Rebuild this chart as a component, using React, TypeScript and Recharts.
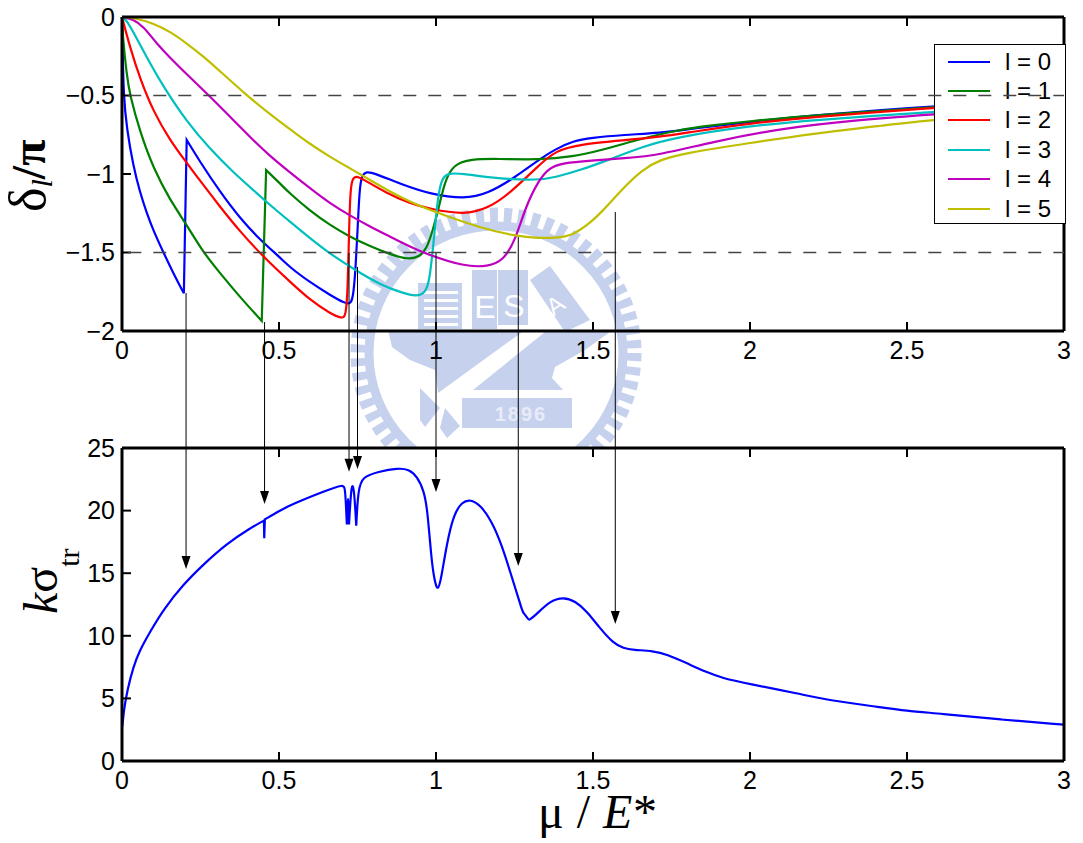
import { Line, LineChart, ReferenceDot, ReferenceLine, XAxis, YAxis } from 'recharts';

const xTicks = [0, 0.5, 1, 1.5, 2, 2.5, 3];
const phaseTicks = [-2, -1.5, -1, -0.5, 0];
const sigmaTicks = [0, 5, 10, 15, 20, 25];
const guideLevels = [-0.5, -1.5];

// curves are drawn as b-splines, so a value listed three times is a sharp corner (the jumps)
const l0X = [0, 0.002, 0.005, 0.015, 0.036, 0.057, 0.079, 0.1, 0.132, 0.163, 0.197, 0.197, 0.197, 0.206, 0.206, 0.206, 0.248, 0.312, 0.376, 0.44, 0.503, 0.535, 0.599, 0.662, 0.71, 0.729, 0.737, 0.744, 0.75, 0.756, 0.763, 0.779, 0.8, 0.896, 0.981, 1.09, 1.166, 1.253, 1.327, 1.382, 1.437, 1.492, 1.6, 1.71, 1.82, 1.99, 2.21, 2.43, 2.58, 2.8, 3];
const l0Y = [0, -0.2, -0.5, -0.71, -0.95, -1.115, -1.25, -1.36, -1.5, -1.63, -1.76, -1.76, -1.76, -0.783, -0.783, -0.783, -0.921, -1.113, -1.282, -1.42, -1.531, -1.595, -1.69, -1.77, -1.824, -1.83, -1.77, -1.6, -1.367, -1.11, -1.007, -0.985, -0.992, -1.07, -1.127, -1.16, -1.125, -1.02, -0.91, -0.84, -0.79, -0.77, -0.75, -0.74, -0.71, -0.67, -0.625, -0.59, -0.57, -0.54, -0.52];

const l1X = [0, 0.002, 0.015, 0.025, 0.057, 0.1, 0.153, 0.203, 0.259, 0.312, 0.376, 0.445, 0.445, 0.445, 0.459, 0.459, 0.459, 0.503, 0.535, 0.599, 0.662, 0.726, 0.79, 0.854, 0.912, 0.949, 0.97, 0.985, 1.005, 1.027, 1.055, 1.11, 1.197, 1.327, 1.437, 1.525, 1.635, 1.767, 1.88, 1.99, 2.21, 2.58, 2.8, 3];
const l1Y = [0, -0.115, -0.37, -0.497, -0.73, -0.964, -1.166, -1.314, -1.501, -1.63, -1.785, -1.936, -1.936, -1.936, -0.975, -0.975, -0.975, -1.06, -1.125, -1.235, -1.325, -1.4, -1.46, -1.512, -1.545, -1.527, -1.473, -1.39, -1.25, -1.05, -0.94, -0.905, -0.903, -0.91, -0.89, -0.85, -0.785, -0.72, -0.69, -0.665, -0.625, -0.575, -0.545, -0.525];

const l2X = [0, 0.025, 0.057, 0.1, 0.153, 0.203, 0.259, 0.312, 0.376, 0.45, 0.535, 0.599, 0.662, 0.7, 0.713, 0.719, 0.723, 0.727, 0.733, 0.745, 0.763, 0.843, 0.917, 0.981, 1.09, 1.166, 1.24, 1.327, 1.382, 1.46, 1.6, 1.71, 1.82, 1.99, 2.21, 2.58, 2.8, 3];
const l2Y = [0, -0.19, -0.39, -0.603, -0.785, -0.921, -1.07, -1.208, -1.367, -1.527, -1.686, -1.803, -1.887, -1.92, -1.91, -1.728, -1.367, -1.113, -1.032, -1.013, -1.027, -1.123, -1.187, -1.223, -1.26, -1.22, -1.115, -0.945, -0.85, -0.81, -0.785, -0.765, -0.73, -0.68, -0.635, -0.58, -0.55, -0.53];

const l3X = [0, 0.015, 0.047, 0.089, 0.132, 0.206, 0.28, 0.355, 0.418, 0.471, 0.535, 0.599, 0.657, 0.742, 0.822, 0.896, 0.939, 0.965, 0.979, 0.995, 1.005, 1.017, 1.038, 1.077, 1.197, 1.327, 1.382, 1.46, 1.55, 1.657, 1.767, 1.99, 2.21, 2.58, 2.8, 3];
const l3Y = [0, -0.02, -0.136, -0.295, -0.444, -0.667, -0.84, -0.99, -1.102, -1.197, -1.304, -1.41, -1.501, -1.611, -1.705, -1.76, -1.78, -1.755, -1.696, -1.38, -1.165, -1.03, -0.995, -0.995, -1.03, -1.04, -1.02, -0.975, -0.91, -0.825, -0.765, -0.695, -0.655, -0.605, -0.58, -0.56];

const l4X = [0, 0.036, 0.068, 0.11, 0.153, 0.222, 0.277, 0.344, 0.418, 0.471, 0.535, 0.599, 0.662, 0.726, 0.79, 0.854, 0.917, 0.97, 1.09, 1.166, 1.215, 1.253, 1.285, 1.327, 1.36, 1.404, 1.492, 1.6, 1.71, 1.88, 2.1, 2.32, 2.58, 2.8, 3];
const l4Y = [0, -0.013, -0.06, -0.168, -0.26, -0.395, -0.5, -0.635, -0.785, -0.885, -0.99, -1.091, -1.187, -1.265, -1.335, -1.399, -1.463, -1.51, -1.59, -1.59, -1.55, -1.42, -1.21, -1.04, -0.96, -0.93, -0.915, -0.9, -0.88, -0.795, -0.71, -0.66, -0.62, -0.59, -0.57];

const l5X = [0, 0.036, 0.1, 0.153, 0.206, 0.259, 0.312, 0.392, 0.45, 0.535, 0.599, 0.662, 0.726, 0.79, 0.854, 0.917, 0.981, 1.143, 1.253, 1.327, 1.393, 1.43, 1.46, 1.49, 1.525, 1.6, 1.657, 1.71, 1.8, 1.99, 2.21, 2.43, 2.58, 2.8, 3];
const l5Y = [0, -0.004, -0.04, -0.093, -0.168, -0.25, -0.345, -0.49, -0.585, -0.715, -0.81, -0.89, -0.964, -1.038, -1.113, -1.176, -1.23, -1.345, -1.395, -1.41, -1.405, -1.39, -1.355, -1.31, -1.25, -1.08, -0.975, -0.91, -0.865, -0.805, -0.74, -0.69, -0.655, -0.625, -0.6];

const sigmaX = [0.001, 0.006, 0.017, 0.036, 0.057, 0.089, 0.132, 0.195, 0.259, 0.333, 0.408, 0.452, 0.452, 0.452, 0.453, 0.453, 0.453, 0.455, 0.455, 0.455, 0.503, 0.541, 0.65, 0.705, 0.711, 0.716, 0.716, 0.716, 0.72, 0.72, 0.723, 0.723, 0.723, 0.73, 0.736, 0.741, 0.746, 0.746, 0.746, 0.752, 0.766, 0.815, 0.88, 0.913, 0.94, 0.962, 0.973, 0.985, 0.995, 1.006, 1.017, 1.034, 1.056, 1.083, 1.11, 1.143, 1.176, 1.209, 1.242, 1.276, 1.276, 1.296, 1.296, 1.315, 1.363, 1.406, 1.443, 1.48, 1.522, 1.565, 1.597, 1.628, 1.692, 1.735, 1.8, 1.862, 1.915, 1.99, 2.16, 2.25, 2.4, 2.5, 2.6, 2.8, 3];
const sigmaY = [2.75, 4.07, 5.67, 7.53, 8.86, 10.3, 12.1, 14.1, 15.7, 17.35, 18.6, 19.2, 19.2, 19.2, 17.8, 17.8, 17.8, 19.3, 19.3, 19.3, 20, 20.5, 21.6, 22.1, 21.8, 18.9, 18.9, 18.9, 21, 21, 18.9, 18.9, 18.9, 21.9, 22.1, 21, 18.8, 18.8, 18.8, 21.7, 22.7, 23.1, 23.4, 23.3, 22.75, 21.55, 20, 16.2, 14.4, 13.5, 14.65, 17.3, 19.7, 20.7, 20.9, 20.4, 19.2, 17.3, 14.65, 11.92, 11.92, 11.26, 11.26, 11.58, 12.8, 13.1, 12.78, 11.98, 10.6, 9.4, 9, 8.87, 8.79, 8.52, 7.8, 7.08, 6.6, 6.2, 5.35, 4.85, 4.35, 4, 3.8, 3.3, 2.9];

const arrowX = [0.204, 0.454, 0.723, 0.75, 1, 1.262, 1.571];
const arrowFrom = [37.38, 35.06, 40.58, 39.46, 40.58, 41.85, 43.85];
const arrowTo = [15.34, 20.53, 23.1, 23.32, 21.49, 15.58, 10.94];

const seriesNames = ['l = 0', 'l = 1', 'l = 2', 'l = 3', 'l = 4', 'l = 5'];
const seriesColors = ['#0000ff', '#007f00', '#ff0000', '#00bfbf', '#bf00bf', '#bfbf00'];
const seriesX = [l0X, l1X, l2X, l3X, l4X, l5X];
const seriesY = [l0Y, l1Y, l2Y, l3Y, l4Y, l5Y];

const toPoints = (xs: number[], ys: number[]) => xs.map((x, i) => ({ x, y: ys[i] }));

const SANS = '"Liberation Sans", Arial, sans-serif';
const SERIF = '"Liberation Serif", "Times New Roman", serif';
const W = 1083;
const TOP_H = 372;
const axisLine = { stroke: '#000', strokeWidth: 3 };
const tickStyle = { fill: '#000', fontSize: 25, fontFamily: SANS };
const tickLine = { stroke: '#000', strokeWidth: 2 };
const minus = (v: number) => String(v).replace('-', '\u2212');
const noLabel = () => <g />;

const layer = (z: number) => ({ position: 'absolute' as const, left: 0, top: 0, zIndex: z });

// school seal behind the top panel, cut off where the lower figure starts
const Watermark = () => {
  const c = '#c6d1ee';
  return (
    <svg width={W} height={447} style={layer(0)}>
      <circle cx={496} cy={353} r={138} fill="none" stroke={c} strokeWidth={15} strokeDasharray="8 6" />
      <circle cx={496} cy={353} r={127} fill="none" stroke={c} strokeWidth={9} />
      <rect x={418} y={283} width={44} height={46} fill={c} />
      {[291, 299, 307, 315, 323].map((y) => (
        <rect key={y} x={424} y={y} width={34} height={3} fill="#fff" />
      ))}
      <rect x={472} y={270} width={25} height={59} fill={c} />
      <rect x={498} y={270} width={30} height={55} fill={c} />
      <text x={485} y={318} textAnchor="middle" fill="#fff" fontFamily={SANS} fontSize={32}>E</text>
      <text x={514} y={317} textAnchor="middle" fill="#fff" fontFamily={SANS} fontSize={32}>S</text>
      <polygon points="530,280 550,266 590,320 565,332" fill={c} />
      <text x={560} y={312} textAnchor="middle" fill="#fff" fontFamily={SANS} fontSize={24} transform="rotate(-35 560 312)">A</text>
      <polygon points="388,330 525,330 438,393 435,370 410,360 392,347" fill={c} />
      <polygon points="545,332 610,332 585,350 555,367 552,378 563,390 473,390" fill={c} />
      <polygon points="420,388 440,408 425,427 420,420" fill={c} />
      <polygon points="445,408 460,426 447,438 440,428" fill={c} />
      <rect x={462} y={398} width={110} height={30} fill={c} />
      <text x={521} y={421} textAnchor="middle" fill="#e8ecf8" fontFamily={SANS} fontWeight="bold" fontSize={20} letterSpacing={2}>1896</text>
    </svg>
  );
};

const PhaseLegend = () => (
  <div
    style={{
      ...layer(2),
      left: 934,
      top: 44,
      width: 130,
      height: 178,
      background: '#fff',
      border: '1.5px solid #000',
      fontFamily: SANS,
      fontSize: 24,
    }}
  >
    {seriesNames.map((name, i) => (
      <div key={name} style={{ position: 'absolute', left: 13, top: 1.5 + i * 29.4, height: 30, display: 'flex', alignItems: 'center' }}>
        <span style={{ width: 42, height: 2, background: seriesColors[i], marginRight: 15 }} />
        <span>{name}</span>
      </div>
    ))}
  </div>
);

const ArrowHead = ({ cx, cy }: { cx?: number; cy?: number }) => {
  if (cx == null || cy == null) return null;
  return <polygon points={`${cx - 4.5},${cy - 13} ${cx + 4.5},${cy - 13} ${cx},${cy}`} fill="#000" />;
};

const AxisTitles = () => (
  <svg width={W} height={843} style={layer(5)}>
    <text transform="translate(45 212) rotate(-90)" fontFamily={SERIF} fontSize={52} fill="#000">
      δ
      <tspan fontSize={30} fontStyle="italic" dy={7}>l</tspan>
      <tspan fontSize={48} fontWeight="bold" dy={-7}>/π</tspan>
    </text>
    <text transform="translate(57 614) rotate(-90)" fontFamily={SERIF} fontSize={48} fill="#000">
      <tspan fontStyle="italic">k</tspan>
      σ
      <tspan fontSize={30} dy={22}>tr</tspan>
    </text>
    <text x={538} y={828} fontFamily={SERIF} fontSize={48} fill="#000" letterSpacing={0.5}>
      μ / <tspan fontStyle="italic">E</tspan>*
    </text>
  </svg>
);

// the top and right edges of the box are axes too, and an axis only draws with a series on it
const boxCornersX = [0, 3];
const phaseCornersY = [0, -2];
const sigmaCornersY = [0, 25];

export default function App() {
  return (
    <div style={{ position: 'absolute', left: 0, top: 0, width: W, height: 843, background: '#fff', overflow: 'hidden' }}>
      <Watermark />

      <div style={layer(1)}>
        <LineChart width={W} height={TOP_H} margin={{ top: 16, right: 18, bottom: 1, left: 0 }}>
          <XAxis dataKey="x" type="number" domain={[0, 3]} ticks={xTicks} height={40} axisLine={axisLine} tickLine={tickLine} tickSize={-9} tickMargin={19} tick={tickStyle} interval={0} />
          <XAxis xAxisId="top" orientation="top" dataKey="x" type="number" domain={[0, 3]} ticks={xTicks} height={1} axisLine={axisLine} tickLine={tickLine} tickSize={-9} tick={noLabel} interval={0} />
          <YAxis type="number" domain={[-2, 0]} ticks={phaseTicks} width={122} axisLine={axisLine} tickLine={tickLine} tickSize={-9} tickMargin={16} tick={tickStyle} tickFormatter={minus} interval={0} />
          <YAxis yAxisId="right" orientation="right" type="number" domain={[-2, 0]} ticks={phaseTicks} width={1} axisLine={axisLine} tickLine={false} tick={false} />
          <Line xAxisId="top" yAxisId="right" data={toPoints(boxCornersX, phaseCornersY)} dataKey="y" stroke="none" dot={false} isAnimationActive={false} />
          {seriesNames.map((name, i) => (
            <Line key={name} data={toPoints(seriesX[i], seriesY[i])} dataKey="y" name={name} stroke={seriesColors[i]} strokeWidth={2.2} type="basis" dot={false} isAnimationActive={false} />
          ))}
        </LineChart>
      </div>

      <PhaseLegend />

      {/* the dashed levels run over the legend box, so they sit in their own layer */}
      <div style={layer(3)}>
        <LineChart width={W} height={TOP_H} margin={{ top: 17, right: 19, bottom: 41, left: 122 }}>
          <XAxis dataKey="x" type="number" domain={[0, 3]} hide />
          <YAxis type="number" domain={[-2, 0]} hide />
          {guideLevels.map((level) => (
            <Line
              key={level}
              data={toPoints(boxCornersX, [level, level])}
              dataKey="y"
              stroke="#444"
              strokeWidth={1.3}
              strokeDasharray="13 12"
              strokeDashoffset={18.7}
              type="linear"
              dot={false}
              isAnimationActive={false}
            />
          ))}
        </LineChart>
      </div>

      <div style={layer(4)}>
        <LineChart width={W} height={843} margin={{ top: 447, right: 18, bottom: 42, left: 0 }}>
          <XAxis dataKey="x" type="number" domain={[0, 3]} ticks={xTicks} height={40} axisLine={axisLine} tickLine={tickLine} tickSize={-9} tickMargin={19} tick={tickStyle} interval={0} />
          <XAxis xAxisId="top" orientation="top" dataKey="x" type="number" domain={[0, 3]} ticks={xTicks} height={1} axisLine={axisLine} tickLine={tickLine} tickSize={-9} tick={noLabel} interval={0} />
          <YAxis type="number" domain={[0, 25]} ticks={sigmaTicks} width={122} axisLine={axisLine} tickLine={tickLine} tickSize={-9} tickMargin={16} tick={tickStyle} interval={0} />
          <YAxis yAxisId="right" orientation="right" type="number" domain={[0, 25]} ticks={sigmaTicks} width={1} axisLine={axisLine} tickLine={false} tick={false} />
          <Line xAxisId="top" yAxisId="right" data={toPoints(boxCornersX, sigmaCornersY)} dataKey="y" stroke="none" dot={false} isAnimationActive={false} />
          <Line data={toPoints(sigmaX, sigmaY)} dataKey="y" stroke="#0000ff" strokeWidth={2.2} type="basis" dot={false} isAnimationActive={false} />
          {arrowX.map((x, i) => (
            <ReferenceLine
              key={x}
              ifOverflow="visible"
              segment={[{ x, y: arrowFrom[i] }, { x, y: arrowTo[i] + 1 }]}
              stroke="#000"
              strokeWidth={1}
            />
          ))}
          {arrowX.map((x, i) => (
            <ReferenceDot key={x} x={x} y={arrowTo[i]} ifOverflow="visible" shape={<ArrowHead />} />
          ))}
        </LineChart>
      </div>

      <AxisTitles />
    </div>
  );
}
